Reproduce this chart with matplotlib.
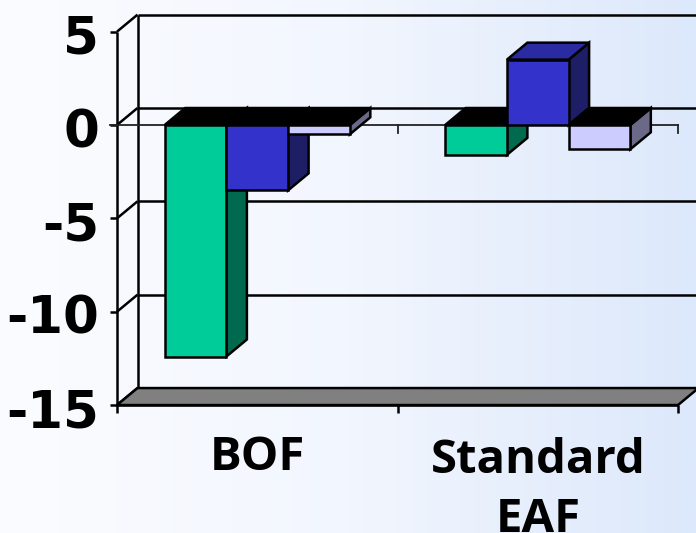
import numpy as np
import matplotlib
matplotlib.use("Agg")
import matplotlib.pyplot as plt
from matplotlib.patches import Polygon
from matplotlib.colors import LinearSegmentedColormap

# ---- data ----
categories = ["BOF", "Standard\nEAF"]
series_a = [-12.4, -1.6]   # green
series_b = [-3.5, 3.5]     # blue
series_c = [-0.5, -1.3]    # lavender
y_ticks = [5, 0, -5, -10, -15]
y_tick_labels = ["5", "0", "-5", "-10", "-15"]

# ---- styles ----
face_cols = ["#00cc99", "#3333cc", "#ccccff"]
side_cols = ["#006a4e", "#1e1e66", "#6a6a88"]
top_pos_cols = ["#00a57c", "#2a2aa2", "#a6a6d6"]

W, H = 696, 533
fig = plt.figure(figsize=(W / 100, H / 100), dpi=100)
ax = fig.add_axes([0, 0, 1, 1])

# scale: category unit and value unit in pixels
x0_px, cat_px = 117.0, 280.5
y0_px, val_px = 125.0, 18.67
ax.set_xlim(-x0_px / cat_px, (W - x0_px) / cat_px)
ax.set_ylim(-(H - y0_px) / val_px, y0_px / val_px)
ax.axis("off")

# 3-D depth offsets in data units
DX = 20.5 / cat_px
DY = 17.0 / val_px
vmin, vmax = min(y_ticks), max(y_ticks)
ncat = len(categories)
xl, xr = ax.get_xlim()
yb, yt = ax.get_ylim()

# background gradient
cmap = LinearSegmentedColormap.from_list("bg", ["#fbfcff", "#f2f6fe", "#dce8fb"])
grad = np.linspace(0, 1, 256).reshape(1, -1)
ax.imshow(grad, cmap=cmap, aspect="auto", extent=[xl, xr, yb, yt], zorder=0)

lw = 1.8
k = dict(color="black", lw=lw, solid_capstyle="butt", zorder=2)

# back-wall gridlines and side-wall diagonals
for v in y_ticks:
    ax.plot([DX, xr + 1], [v + DY, v + DY], **k)
    ax.plot([0, DX], [v, v + DY], **k)
ax.plot([DX, DX], [vmin + DY, vmax + DY], **k)

# floor
floor = Polygon([(0, vmin), (ncat, vmin), (ncat + DX, vmin + DY), (DX, vmin + DY)],
                closed=True, facecolor="#808080", edgecolor="black", lw=lw, zorder=3)
ax.add_patch(floor)

# front value axis with ticks
tick_x = 7.0 / cat_px
tick_y = 8.0 / val_px
ax.plot([0, 0], [vmin, vmax], **k)
for v in y_ticks:
    ax.plot([-tick_x, 0], [v, v], **k)

# category axis at zero and along the bottom
ax.plot([-tick_x, ncat], [0, 0], color="#222222", lw=1.3, zorder=3)
for c in range(1, ncat + 1):
    ax.plot([c, c], [0, -tick_y], color="#222222", lw=1.3, zorder=3)
ax.plot([0, ncat], [vmin, vmin], **k)
for c in range(0, ncat + 1):
    ax.plot([c, c], [vmin, vmin - tick_y], **k)

# bars
gap = 0.17
bw = (1 - 2 * gap) / 3
series = [series_a, series_b, series_c]
z = 5
for ci in range(ncat):
    for si, vals in enumerate(series):
        v = vals[ci]
        x1 = ci + gap + si * bw
        x2 = x1 + bw
        ytop = max(v, 0)
        ybot = min(v, 0)
        side = Polygon([(x2, ybot), (x2 + DX, ybot + DY), (x2 + DX, ytop + DY), (x2, ytop)],
                       closed=True, facecolor=side_cols[si], edgecolor="black",
                       lw=lw, joinstyle="miter", zorder=z)
        topc = top_pos_cols[si] if v > 0 else "black"
        top = Polygon([(x1, ytop), (x2, ytop), (x2 + DX, ytop + DY), (x1 + DX, ytop + DY)],
                      closed=True, facecolor=topc, edgecolor="black",
                      lw=lw, joinstyle="miter", zorder=z)
        front = Polygon([(x1, ybot), (x2, ybot), (x2, ytop), (x1, ytop)],
                        closed=True, facecolor=face_cols[si], edgecolor="black",
                        lw=lw, joinstyle="miter", zorder=z + 0.5)
        ax.add_patch(side)
        ax.add_patch(top)
        ax.add_patch(front)
        z += 1

# value-axis tick labels
lab_x = -18.0 / cat_px
for v, s in zip(y_ticks, y_tick_labels):
    ax.text(lab_x, v - 22.0 / val_px, s, ha="right", va="baseline", fontsize=37,
            family="DejaVu Sans", weight="bold", color="black")

# category labels, multi-line ones anchored at the last baseline
line_px = 62.0
first_base_px = 470.0
for ci, name in enumerate(categories):
    nlines = name.count("\n") + 1
    y = -(first_base_px + (nlines - 1) * line_px - y0_px) / val_px
    ax.text(ci + 0.5, y, name, ha="center", va="baseline", fontsize=34,
            linespacing=1.33, multialignment="center",
            family="Open Sans", weight="bold", color="black")

fig.savefig("out.png", dpi=100)
